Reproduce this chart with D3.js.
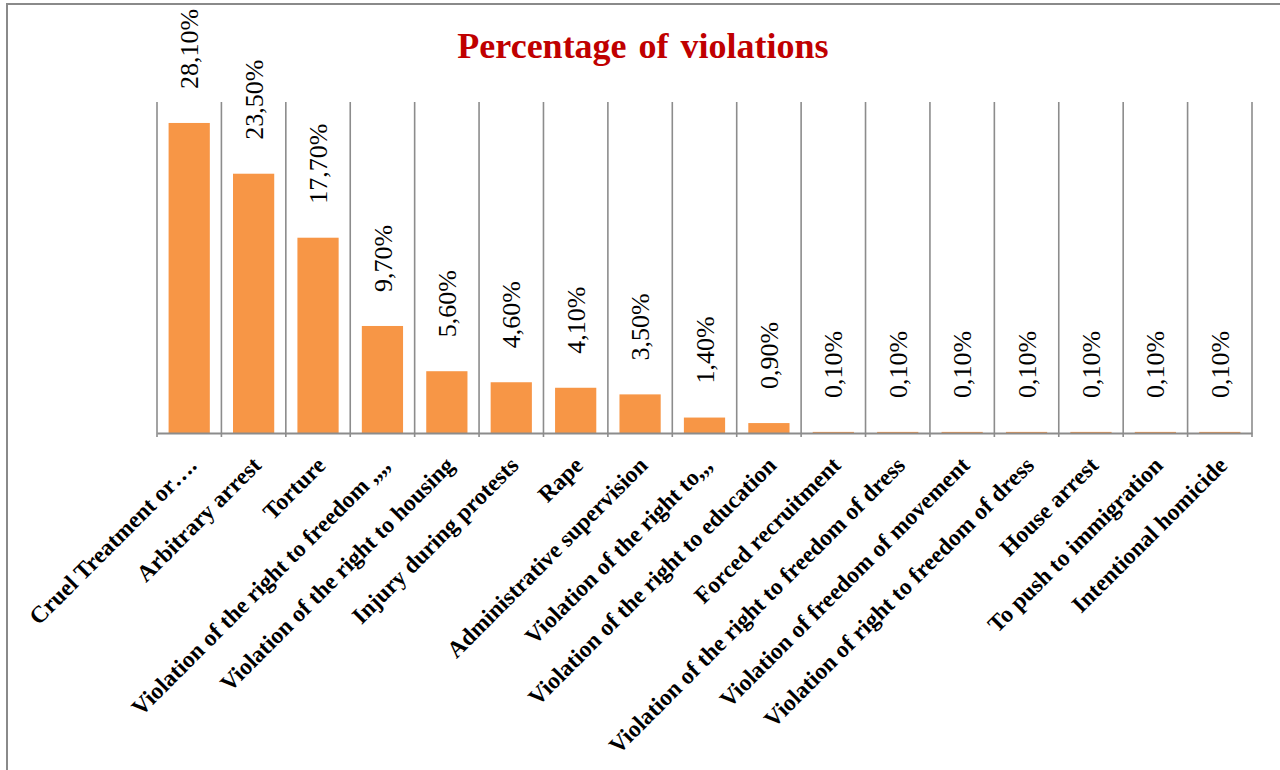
<!DOCTYPE html>
<html>
<head>
<meta charset="utf-8">
<script src="https://cdn.jsdelivr.net/npm/d3@7"></script>
<style>
	html, body { margin: 0; padding: 0; background: #fff; }
	svg { display: block; }
</style>
</head>
<body>
<svg id="canvas"></svg>
<script>
const categories = [
	'Cruel Treatment or….',
	'Arbitrary arrest',
	'Torture',
	'Violation of the right to freedom ,,,,',
	'Violation of the right to housing',
	'Injury during protests',
	'Rape',
	'Administrative supervision',
	'Violation of the right to,,,',
	'Violation of the right to education',
	'Forced recruitment',
	'Violation of the right to freedom of dress',
	'Violation of freedom of movement',
	'Violation of right to freedom of dress',
	'House arrest',
	'To push to immigration',
	'Intentional homicide'
];
const values = [28.1, 23.5, 17.7, 9.7, 5.6, 4.6, 4.1, 3.5, 1.4, 0.9, 0.1, 0.1, 0.1, 0.1, 0.1, 0.1, 0.1];
const yDomain = [0, 30];
const title = 'Percentage of violations';

const WIDTH = 1280,
	HEIGHT = 770,
	LEFT = 157,
	RIGHT = 1252,
	TOP = 102,
	BASE = 433,
	SERIF = '"Liberation Serif", "Times New Roman", serif',
	GRID = '#8c8c8c';

const svg = d3.select('svg#canvas')
	.attr('width', WIDTH)
	.attr('height', HEIGHT);

// outer frame (only left and top edges show)
svg.append('path')
	.attr('d', `M7,${HEIGHT} V4 H${WIDTH}`)
	.attr('fill', 'none')
	.attr('stroke', '#8a8a8a')
	.attr('stroke-width', 2);

svg.append('text')
	.attr('x', 643)
	.attr('y', 58)
	.attr('text-anchor', 'middle')
	.attr('font-family', SERIF)
	.attr('font-weight', 'bold')
	.attr('font-size', 36)
	.attr('word-spacing', 3)
	.attr('fill', '#c00000')
	.text(title);

const x = d3.scaleBand()
	.domain(categories)
	.range([LEFT, RIGHT])
	.paddingInner(0.36)
	.paddingOuter(0.18);

const y = d3.scaleLinear()
	.domain(yDomain)
	.range([BASE, TOP]);

const step = x.step();
const bounds = d3.range(categories.length + 1).map(i => LEFT + i * step);

// vertical gridlines at category boundaries
svg.append('g')
	.selectAll('line')
	.data(bounds)
	.join('line')
		.attr('x1', d => d)
		.attr('x2', d => d)
		.attr('y1', y(yDomain[1]))
		.attr('y2', BASE + 4)
		.attr('stroke', GRID)
		.attr('stroke-width', 1.6);

const rows = categories.map((c, i) => ({ cat: c, val: values[i] }));

svg.append('g')
	.selectAll('rect')
	.data(rows)
	.join('rect')
		.attr('x', d => x(d.cat))
		.attr('y', d => y(d.val))
		.attr('width', x.bandwidth())
		.attr('height', d => y(0) - y(d.val))
		.attr('fill', '#f79646');

// value labels, rotated
const fmt = v => d3.format('.2f')(v).replace('.', ',') + '%';

svg.append('g')
	.selectAll('text')
	.data(rows)
	.join('text')
		.attr('transform', d => `translate(${x(d.cat) + x.bandwidth() / 2},${y(d.val) - 34}) rotate(-90)`)
		.attr('dy', '0.35em')
		.attr('text-anchor', 'start')
		.attr('font-family', SERIF)
		.attr('font-size', 26)
		.attr('fill', '#000')
		.text(d => fmt(d.val));

// category axis
const xAxis = svg.append('g')
	.attr('transform', `translate(0,${BASE})`)
	.call(d3.axisBottom(x).tickSize(0).tickSizeOuter(0).tickPadding(0));

xAxis.select('.domain')
	.attr('stroke', GRID)
	.attr('stroke-width', 2);

xAxis.selectAll('.tick text')
	.attr('transform', 'translate(3,28) rotate(-45)')
	.attr('y', 0)
	.attr('dy', '0.35em')
	.attr('text-anchor', 'end')
	.attr('font-family', SERIF)
	.attr('font-weight', 'bold')
	.attr('font-size', 23.5)
	.attr('fill', '#000');
</script>
</body>
</html>
